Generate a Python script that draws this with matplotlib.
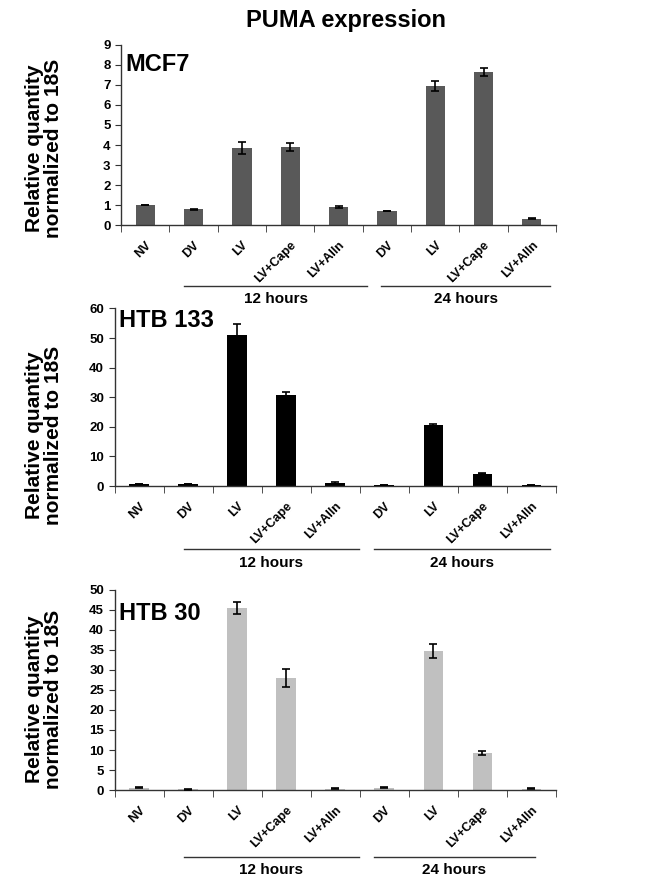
import matplotlib
matplotlib.use('Agg')
import matplotlib.pyplot as plt
from matplotlib import transforms
from matplotlib.ticker import FixedLocator
import numpy as np

categories = ['NV', 'DV', 'LV', 'LV+Cape', 'LV+Alln', 'DV', 'LV', 'LV+Cape', 'LV+Alln']

mcf7_vals = [1.0, 0.78, 3.85, 3.92, 0.88, 0.70, 6.95, 7.65, 0.32]
mcf7_err = [0.02, 0.03, 0.30, 0.20, 0.05, 0.02, 0.23, 0.22, 0.03]

htb133_vals = [0.7, 0.7, 51.1, 30.7, 1.1, 0.4, 20.6, 4.2, 0.4]
htb133_err = [0.1, 0.1, 3.5, 1.0, 0.3, 0.1, 0.5, 0.3, 0.1]

htb30_vals = [0.6, 0.2, 45.5, 28.0, 0.3, 0.6, 34.8, 9.3, 0.3]
htb30_err = [0.1, 0.1, 1.6, 2.2, 0.1, 0.1, 1.7, 0.5, 0.1]

SANS = ['Liberation Sans', 'DejaVu Sans']

fig = plt.figure(figsize=(6.6, 8.8), dpi=100)
W, H = 660, 880


def px_axes(left, right, bottom, top):
    return fig.add_axes([left / W, 1 - bottom / H, (right - left) / W, (bottom - top) / H])


def panel(ax, vals, errs, color, ymax, ystep, name, name_xy, lines, lab_y, line_y, ylab_y):
    x = np.arange(len(categories))
    ax.bar(x, vals, width=0.4, color=color, edgecolor='none', zorder=2)
    ax.errorbar(x, vals, yerr=errs, fmt='none', ecolor='black', elinewidth=1.2,
                capsize=3, capthick=1.2, zorder=3)
    ax.set_xlim(-0.5, len(categories) - 0.5)
    ax.set_ylim(0, ymax)
    ax.set_yticks(np.arange(0, ymax + 0.01, ystep))
    for s in ('top', 'right'):
        ax.spines[s].set_visible(False)
    for s in ('left', 'bottom'):
        ax.spines[s].set_color('#333333')
        ax.spines[s].set_linewidth(1.0)
    ax.set_xticks(x)
    ax.set_xticklabels(categories, rotation=45, ha='right', rotation_mode='anchor',
                       family=SANS, fontweight='bold', fontsize=9)
    ax.tick_params(axis='x', which='major', length=0, pad=10)
    ax.xaxis.set_minor_locator(FixedLocator(np.arange(-0.5, len(categories), 1.0)))
    ax.tick_params(axis='x', which='minor', length=5, direction='out', color='#333333')
    ax.tick_params(axis='y', length=4, direction='out', color='#333333', labelsize=9.5)
    for t in ax.get_yticklabels():
        t.set_fontweight('bold')
        t.set_family(SANS)
    ax.text(name_xy[0], name_xy[1], name, transform=ax.transAxes, family=SANS,
            fontweight='bold', fontsize=17, ha='left', va='center')
    trans = transforms.blended_transform_factory(ax.transData, ax.transAxes)
    for (x0, x1), lab in zip(lines, ['12 hours', '24 hours']):
        ax.plot([x0, x1], [line_y, line_y], color='#333333', lw=1.0,
                transform=trans, clip_on=False)
        ax.text((x0 + x1) / 2, lab_y, lab, transform=trans, ha='center', va='center',
                family=SANS, fontweight='bold', fontsize=11)
    fig.text(44 / W, 1 - ylab_y / H, 'Relative quantity\nnormalized to 18S', rotation=90,
             ha='center', va='center', multialignment='center', family=SANS,
             fontweight='bold', fontsize=15, linespacing=1.0)


fig.text(346 / W, 1 - 20 / H, 'PUMA expression', ha='center', va='center',
         family=SANS, fontweight='bold', fontsize=17)

ax1 = px_axes(121, 556, 225, 45)
panel(ax1, mcf7_vals, mcf7_err, '#595959', 9, 1, 'MCF7', (0.01, 0.89),
      [(0.8, 4.6), (4.88, 8.38)], -0.41, -0.339, 148)

ax2 = px_axes(114.5, 556, 486, 308.5)
panel(ax2, htb133_vals, htb133_err, '#000000', 60, 10, 'HTB 133', (0.01, 0.935),
      [(0.92, 4.48), (4.79, 8.38)], -0.434, -0.355, 435)

ax3 = px_axes(114.5, 556, 790, 590)
panel(ax3, htb30_vals, htb30_err, '#c0c0c0', 50, 5, 'HTB 30', (0.01, 0.885),
      [(0.92, 4.48), (4.79, 8.07)], -0.40, -0.335, 699)

fig.savefig('out.png', dpi=100, facecolor='white')
